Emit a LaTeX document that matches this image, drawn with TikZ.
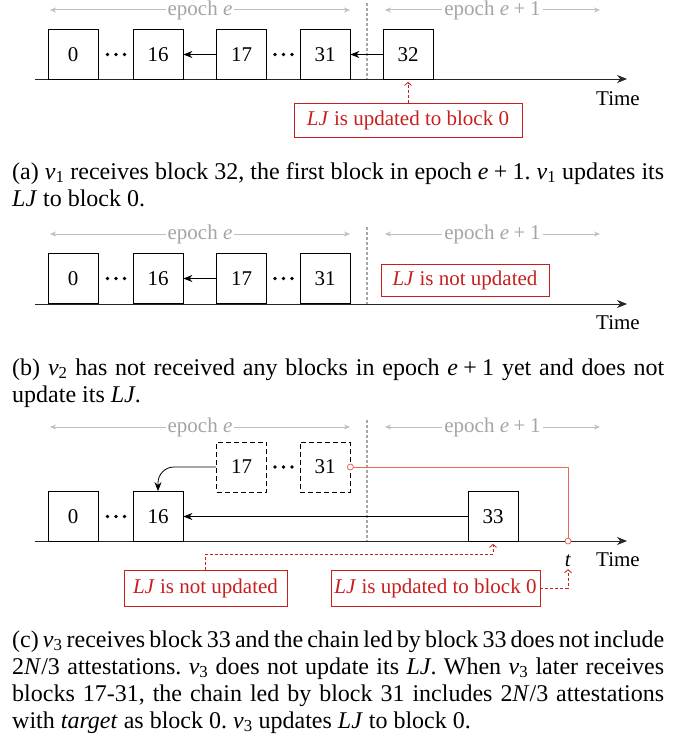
\documentclass[tikz,border=0pt]{standalone}
\usepackage{amsmath}
\usepackage{fontspec}
\setmainfont{Liberation Serif}
\usetikzlibrary{arrows.meta}
\definecolor{myred}{RGB}{200,30,30}
\definecolor{myorange}{RGB}{235,105,85}
\definecolor{mygray}{RGB}{190,190,190}
\definecolor{labgray}{RGB}{165,165,165}
\newcommand{\mv}[1]{\textit{v}\textsubscript{#1}}
\newcommand{\ee}{\textit{e}\hspace{0.22em}+\hspace{0.22em}1}
\frenchspacing
\begin{document}
\begin{tikzpicture}[x=1pt,y=-1pt, font=\fontsize{21}{25}\selectfont,
 blk/.style={draw, line width=0.8pt, minimum width=50pt, minimum height=50pt, inner sep=0pt},
 dblk/.style={blk, dash pattern=on 5pt off 3pt},
 lj/.style={draw=myred, text=myred, line width=0.8pt, minimum height=34pt, inner sep=0pt},
 epo/.style={draw=mygray, line width=1pt, {Stealth[length=6pt,width=5pt]}-{Stealth[length=6pt,width=5pt]}},
 eplab/.style={fill=white, text=labgray, inner sep=2pt},
 sepline/.style={draw=gray!70, dash pattern=on 3pt off 2pt, line width=1.2pt},
 axisline/.style={draw=black!85, line width=0.9pt, -{Stealth[length=10pt,width=8pt]}},
 arr/.style={draw=black, line width=0.8pt, -{Stealth[length=9pt,width=7pt]}},
 rdash/.style={draw=myred, dash pattern=on 3pt off 2pt, line width=0.8pt, -{Straight Barb[length=3pt,width=7pt]}},
 odot/.style={circle, draw=myorange, fill=white, line width=0.8pt, inner sep=0pt, minimum size=6pt},
 captext/.style={anchor=north west, text width=652pt, align=justify, inner sep=0pt, font=\fontsize{24}{27}\selectfont}
]
\useasboundingbox (0,0) rectangle (683,746);

% ---------------- (a) ----------------
\draw[epo] (50,10) -- (350,10) node[midway, eplab] (aep1) {epoch \textit{e}};
\draw[epo] (385,10) -- (600,10) node[midway, eplab] (aep2) {epoch \ee};
\coordinate (aS1) at (367,3); \coordinate (aS2) at (367,80);
\draw[sepline] (aS1) -- (aS2);
\coordinate (aA1) at (35,79); \coordinate (aA2) at (627,79);
\draw[axisline] (aA1) -- (aA2);
\node (aT) at (618,99) {Time};
\node[blk] (a0) at (73,54.5) {0};
\coordinate (ad1) at (116,54.5);
\node[blk] (a16) at (158,54.5) {16};
\node[blk] (a17) at (241.5,54.5) {17};
\coordinate (ad2) at (283.5,54.5);
\node[blk] (a31) at (325,54.5) {31};
\node[blk] (a32) at (408,54.5) {32};
\foreach \d in {-8.5,0,8.5} {\fill ([xshift=\d pt]ad1) circle[radius=1.8pt]; \fill ([xshift=\d pt]ad2) circle[radius=1.8pt];}
\draw[arr] (a17) -- (a16);
\draw[arr] (a32) -- (a31);
\node[lj, minimum width=228pt] (aLJ) at (408,120.5) {\textit{LJ} is updated to block 0};
\draw[rdash] (aLJ.north) -- ([yshift=-2pt]a32.south);
\node[captext] (capa) at (12,160) {\strut(a) \mv{1} receives block 32, the first block in epoch \ee. \mv{1} updates its\linebreak \textit{LJ} to block 0.};

% ---------------- (b) ----------------
\draw[epo] (50,234) -- (350,234) node[midway, eplab] (bep1) {epoch \textit{e}};
\draw[epo] (385,234) -- (600,234) node[midway, eplab] (bep2) {epoch \ee};
\coordinate (bS1) at (367,227); \coordinate (bS2) at (367,305);
\draw[sepline] (bS1) -- (bS2);
\coordinate (bA1) at (35,304); \coordinate (bA2) at (627,304);
\draw[axisline] (bA1) -- (bA2);
\node (bT) at (618,323) {Time};
\node[blk] (b0) at (73,278.5) {0};
\coordinate (bd1) at (116,278.5);
\node[blk] (b16) at (158,278.5) {16};
\node[blk] (b17) at (241.5,278.5) {17};
\coordinate (bd2) at (283.5,278.5);
\node[blk] (b31) at (325,278.5) {31};
\foreach \d in {-8.5,0,8.5} {\fill ([xshift=\d pt]bd1) circle[radius=1.8pt]; \fill ([xshift=\d pt]bd2) circle[radius=1.8pt];}
\draw[arr] (b17) -- (b16);
\node[lj, minimum width=168pt, minimum height=32pt] (bLJ) at (465,280) {\textit{LJ} is not updated};
\node[captext] (capb) at (12,356) {\strut(b) \mv{2} has not received any blocks in epoch \ee{} yet and does not\linebreak update its \textit{LJ}.};

% ---------------- (c) ----------------
\draw[epo] (50,427) -- (350,427) node[midway, eplab] (cep1) {epoch \textit{e}};
\draw[epo] (385,427) -- (600,427) node[midway, eplab] (cep2) {epoch \ee};
\coordinate (cS1) at (367,420); \coordinate (cS2) at (367,541);
\draw[sepline] (cS1) -- (cS2);
\coordinate (cA1) at (35,541); \coordinate (cA2) at (627,541);
\draw[axisline] (cA1) -- (cA2);
\node (cT) at (618,560) {Time};
\node[dblk] (c17) at (241.5,467) {17};
\coordinate (cd2) at (283.5,467);
\node[dblk] (c31) at (325,467) {31};
\node[blk] (c0) at (73,516.5) {0};
\coordinate (cd1) at (116,516.5);
\node[blk] (c16) at (158,516.5) {16};
\node[blk] (c33) at (493,516.5) {33};
\foreach \d in {-8.5,0,8.5} {\fill ([xshift=\d pt]cd1) circle[radius=1.8pt]; \fill ([xshift=\d pt]cd2) circle[radius=1.8pt];}
\draw[arr] (c33) -- (c16);
\draw[arr, rounded corners=16pt] (c17.west) -| (c16.north);
\coordinate (tpt) at (568,541);
\draw[myorange, line width=1pt] (c31.east) -| (tpt);
\node[odot] (o1) at (c31.east) {};
\node[odot] (o2) at (tpt) {};
\node[inner sep=1pt] (tlab) at (568,561) {\textit{t}};
\node[lj, minimum width=163pt, minimum height=36pt] (cLJ1) at (205.5,588) {\textit{LJ} is not updated};
\node[lj, minimum width=209pt, minimum height=36pt] (cLJ2) at (435.5,588) {\textit{LJ} is updated to block 0};
\coordinate (c33b) at ([yshift=-2pt]c33.south);
\draw[rdash] (cLJ1.north) |- ([yshift=-10pt]c33b) -- (c33b);
\draw[rdash] (cLJ2.east) -| ([yshift=-1pt]tlab.south);
\node[captext] (capc) at (12,628) {\strut(c) \mv{3} receives block 33 and the chain led by block 33 does not include\linebreak 2\textit{N}/3 attestations. \mv{3} does not update its \textit{LJ}. When \mv{3} later receives\linebreak blocks 17-31, the chain led by block 31 includes 2\textit{N}/3 attestations\linebreak with \textit{target} as block 0. \mv{3} updates \textit{LJ} to block 0.};
\end{tikzpicture}
\end{document}
